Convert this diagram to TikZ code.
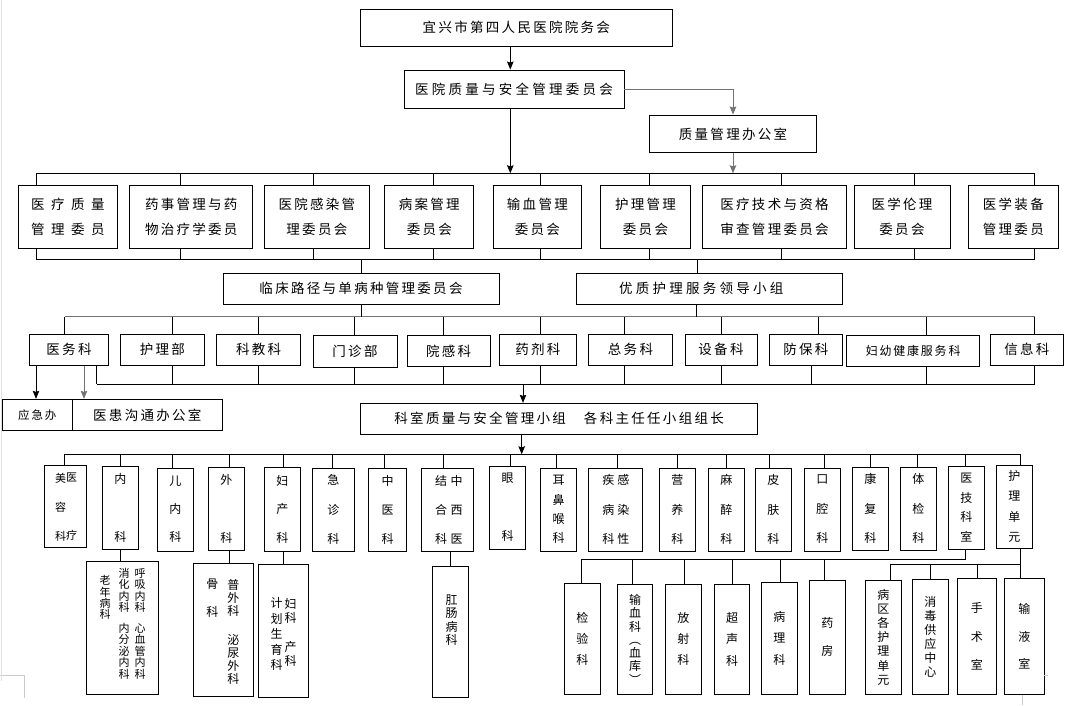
\documentclass[tikz,border=0pt]{standalone}
\usepackage{fontspec}
\usetikzlibrary{arrows.meta}
\newfontfamily\cjk[LetterSpace=17]{Noto Sans CJK SC}
\newfontfamily\cjkv{Noto Sans CJK SC}
\definecolor{gris}{rgb}{0.45,0.45,0.45}
\definecolor{grispale}{rgb}{0.8,0.8,0.8}

\begin{document}
\begin{tikzpicture}[x=1pt, y=-1pt, line width=0.9pt, >={Stealth[length=8pt,width=6.5pt,inset=1pt]}]
  \tikzstyle{box}=[draw, inner sep=0pt, align=center, font=\cjk\fontsize{13.5}{25}\selectfont]
  \tikzstyle{vbox}=[draw, inner sep=0pt, align=center]
  \tikzset{wh/.style 2 args={minimum width=#1pt, minimum height=#2pt},
           vt/.style={inner sep=0pt, align=center, font=\cjkv\fontsize{12}{#1}\selectfont},
           vts/.style={inner sep=0pt, align=center, font=\cjkv\fontsize{11}{#1}\selectfont}}

  \useasboundingbox (0,0) rectangle (1068,705);

  % direction
  \node[box, wh={311.3}{36.7}] (ywh) at (516.35,27.65) {宜兴市第四人民医院院务会};
  \node[box, wh={220}{38.3}] (zaw) at (514,89.15) {\addfontfeature{LetterSpace=24}医院质量与安全管理委员会};
  \node[box, wh={167.4}{37.7}] (zgb) at (733,133.85) {质量管理办公室};

  % comites
  \node[box, wh={99.3}{63.3}, font=\cjk\fontsize{13.5}{25}\selectfont\addfontfeature{LetterSpace=48}] (ylzl) at (67.95,216.65) {医疗质量\\管理委员};
  \node[box, wh={123.1}{63.3}] (ysgl) at (191.25,216.65) {药事管理与药\\物治疗学委员};
  \node[box, wh={104.2}{63.3}] (ygwh) at (316.9,216.65) {医院感染管\\理委员会};
  \node[box, wh={89}{63.3}] (bawh) at (429.3,216.65) {病案管理\\委员会};
  \node[box, wh={88.7}{63.3}] (sxwh) at (537.35,216.65) {输血管理\\委员会};
  \node[box, wh={89.6}{63.3}] (hlwh) at (645.5,216.65) {护理管理\\委员会};
  \node[box, wh={144.2}{63.3}] (jswh) at (774.5,216.65) {医疗技术与资格\\审查管理委员会};
  \node[box, wh={96}{63.3}] (llwh) at (902,216.65) {医学伦理\\委员会};
  \node[box, wh={90.6}{63.3}] (zbwh) at (1013.3,216.65) {医学装备\\管理委员};

  \node[box, wh={276}{31}] (ljwh) at (361,288.8) {临床路径与单病种管理委员会};
  \node[box, wh={265.4}{31}] (yzhl) at (709.3,288.8) {\addfontfeature{LetterSpace=24}优质护理服务领导小组\hspace*{16pt}};

  % services
  \node[box, wh={79.4}{31}] (ywk) at (69,349.8) {医务科};
  \node[box, wh={84}{31}] (hlb) at (162.3,349.8) {护理部};
  \node[box, wh={84.1}{31}] (kjk) at (258.65,349.8) {科教科};
  \node[box, wh={84}{32}] (mzb) at (355,351.3) {门诊部};
  \node[box, wh={83.3}{31.4}] (ygk) at (448.65,351) {院感科};
  \node[box, wh={77.6}{31}] (yjk) at (537.8,349.8) {药剂科};
  \node[box, wh={83.8}{31}] (zwk) at (630.5,349.8) {总务科};
  \node[box, wh={72}{31}] (sbk) at (721,349.8) {设备科};
  \node[box, wh={72.3}{31}] (fbk) at (805.85,349.8) {防保科};
  \node[box, wh={133.1}{31.4}] (fyk) at (913.15,351) {\fontsize{12}{14}\selectfont\addfontfeature{LetterSpace=15}妇幼健康服务科};
  \node[box, wh={72.3}{31}] (xxk) at (1026.85,349.8) {信息科};

  \node[box, wh={70}{31.4}] (yjb) at (37.3,415) {\fontsize{11.5}{14}\selectfont 应急办};
  \node[box, wh={150}{31.4}] (ygt) at (147.3,415) {医患沟通办公室};

  \node[box, wh={396.9}{31}] (ksxz) at (559.15,418.8) {科室质量与安全管理小组　各科主任任小组组长};

  % departements
  \node[vbox, wh={42.4}{82.3}] (mrk) at (65.5,506.15) {};
  \node[vts=29] (mrk1) at (60.7,507) {美\\容\\科};
  \node[vts=58] (mrk2) at (71.7,507) {医\\疗};
  \node[vbox, vt=58, wh={36}{83.3}] (nk) at (120.3,507.65) {内\\科};
  \node[vbox, vt=28, wh={36}{83}] (enk) at (175.3,509.5) {儿\\内\\科};
  \node[vbox, vt=58, wh={36}{82.7}] (wk) at (226.3,508.65) {外\\科};
  \node[vbox, vt=28.5, wh={36}{83.3}] (fck) at (282.3,509.35) {妇\\产\\科};
  \node[vbox, vt=29.5, wh={42}{82.7}] (jzk) at (333.3,509.65) {急\\诊\\科};
  \node[vbox, vt=29, wh={38.4}{83}] (zyk) at (387.5,509.5) {中\\医\\科};
  \node[vbox, wh={52}{83}] (zxy) at (447.3,509.5) {};
  \node[vt=29] (zxy1) at (456.7,509.8) {中\\西\\医};
  \node[vt=29] (zxy2) at (441,509.8) {结\\合\\科};
  \node[vbox, vt=58, wh={36.4}{83.3}] (yk) at (507.5,507.65) {眼\\科};
  \node[vbox, vt=19.3, wh={36.4}{83}] (ebh) at (558.5,509.5) {耳\\鼻\\喉\\科};
  \node[vbox, wh={54}{83}] (grk) at (615.3,509.5) {};
  \node[vt=29.5] (grk1) at (623.3,509.5) {感\\染\\性};
  \node[vt=29.5] (grk2) at (608.3,509.5) {疾\\病\\科};
  \node[vbox, vt=29.5, wh={36}{83}] (yyk) at (677.3,509.5) {营\\养\\科};
  \node[vbox, vt=29.5, wh={36}{83}] (mzk) at (726.3,509.5) {麻\\醉\\科};
  \node[vbox, vt=29.5, wh={36}{83}] (pfk) at (773.3,509.5) {皮\\肤\\科};
  \node[vbox, vt=29.5, wh={36}{83}] (kqk) at (822.3,509.5) {口\\腔\\科};
  \node[vbox, vt=29.5, wh={36}{82.7}] (kfk) at (870.3,508.65) {康\\复\\科};
  \node[vbox, vt=29.5, wh={36}{82.7}] (tjk) at (918.3,508.65) {体\\检\\科};
  \node[vbox, vt=19.7, wh={36}{83}] (yjks) at (966.3,507.5) {医\\技\\科\\室};
  \node[vbox, vt=20.5, wh={36}{83.3}] (hldy) at (1014.3,506.65) {护\\理\\单\\元};

  % sous-unites
  \node[vbox, wh={72}{133.3}] (nks) at (122.3,627.65) {};
  \node[vts=11.5] (nks1) at (140,623.7) {呼\\吸\\内\\科\\[9pt]心\\血\\管\\内\\科};
  \node[vts=11.5] (nks2) at (124,623.7) {消\\化\\内\\科\\[9pt]内\\分\\泌\\内\\科};
  \node[vts=11.3] (nks3) at (105,597.5) {老\\年\\病\\科};
  \node[vbox, wh={60}{133.4}] (wks) at (223.3,630) {};
  \node[vt=13] (wks1) at (233.3,632) {普\\外\\科\\[16.5pt]泌\\尿\\外\\科};
  \node[vt=27.4] (wks2) at (212.3,598) {骨\\科};
  \node[vbox, wh={49.3}{133}] (fcks) at (283.35,630.8) {};
  \node[vt=14.3] (fcks1) at (290.7,632.4) {妇\\科\\[14pt]产\\科};
  \node[vt=15.5] (fcks2) at (276.7,634) {计\\划\\生\\育\\科};
  \node[vbox, wh={36}{131.3}] (gck) at (450.3,631.65) {};
  \node[vt=13.3] (gck1) at (451.7,620) {肛\\肠\\病\\科};

  \node[vbox, vt=21, wh={36}{111}] (jyk) at (582.3,638.8) {检\\验\\科};
  \node[vbox, vt=13.3, wh={35.4}{110}] (sxk) at (635,639.3) {输\\血\\科\\︵\\血\\库\\︶};
  \node[vbox, vt=21, wh={36}{110}] (fsk) at (683.3,639.3) {放\\射\\科};
  \node[vbox, vt=21.3, wh={35.4}{110}] (csk) at (732,639.3) {超\\声\\科};
  \node[vbox, vt=21.5, wh={36}{112}] (blk) at (779.3,638.3) {病\\理\\科};
  \node[vbox, vt=27.7, wh={36}{114.3}] (yf) at (827.3,637.15) {药\\房};
  \node[vbox, vt=14.2, wh={36}{114.3}] (bqhl) at (883.3,637.15) {病\\区\\各\\护\\理\\单\\元};
  \node[vbox, vt=14, wh={36}{115}] (xdgy) at (930.3,636.8) {消\\毒\\供\\应\\中\\心};
  \node[vbox, vt=28.3, wh={39}{116}] (sss) at (976.8,636.3) {手\\术\\室};
  \node[vbox, vt=27.5, wh={40}{116}] (sys) at (1024.3,636.3) {输\\液\\室};

  % bus
  \coordinate (b2t) at (36.2,173.3);
  \coordinate (b2b) at (36.2,259.3);
  \coordinate (b3t) at (64.8,316.7);
  \coordinate (b3b) at (96.6,384);
  \coordinate (b4) at (64.3,454.3);

  % liaisons du haut
  \draw[->] (ywh.south -| 510.3,0) -- (zaw.north -| 510.3,0);
  \draw[->, gris] (zaw.east) -| (zgb.north);
  \draw[->] (zaw.south -| 510.3,0) -- (b2t -| 510.3,0);
  \draw[->, gris] (zgb.south) -- (zgb.south |- b2t);

  \draw (b2t) -- (b2t -| 1034.5,0);
  \draw (b2b) -- (b2b -| 1034.5,0);
  \draw
    (ylzl.north -| 36.2,0) -- (b2t -| 36.2,0)     (ylzl.south -| 36.2,0) -- (b2b -| 36.2,0)
    (ysgl.north -| 180.7,0) -- (b2t -| 180.7,0)   (ysgl.south -| 180.7,0) -- (b2b -| 180.7,0)
    (ygwh.north -| 313,0) -- (b2t -| 313,0)       (ygwh.south -| 313,0) -- (b2b -| 313,0)
    (bawh.north -| 433.8,0) -- (b2t -| 433.8,0)   (bawh.south -| 433.8,0) -- (b2b -| 433.8,0)
    (sxwh.north -| 540.3,0) -- (b2t -| 540.3,0)   (sxwh.south -| 540.3,0) -- (b2b -| 540.3,0)
    (hlwh.north -| 649,0) -- (b2t -| 649,0)       (hlwh.south -| 649,0) -- (b2b -| 649,0)
    (jswh.north -| 781.7,0) -- (b2t -| 781.7,0)   (jswh.south -| 781.7,0) -- (b2b -| 781.7,0)
    (llwh.north -| 914.5,0) -- (b2t -| 914.5,0)   (llwh.south -| 914.5,0) -- (b2b -| 914.5,0)
    (zbwh.north -| 1034.5,0) -- (b2t -| 1034.5,0) (zbwh.south -| 1034.5,0) -- (b2b -| 1034.5,0)
    (b2b -| ljwh.north) -- (ljwh.north)
    (b2b -| 697,0) -- (yzhl.north -| 697,0)
    ;

  % services
  \draw[gris, line width=1.5pt] (b3t) -- (b3t -| 1034.8,0);
  \draw (b3b) -- (b3b -| 1034.8,0);
  \draw
    (ljwh.south) -- (b3t -| ljwh.south)
    (yzhl.south -| 696.6,0) -- (b3t -| 696.6,0)
    (ywk.north -| 64.8,0) -- (b3t -| 64.8,0)      (ywk.south -| 96.6,0) -- (b3b -| 96.6,0)
    (hlb.north -| 172.4,0) -- (b3t -| 172.4,0)    (hlb.south -| 172.4,0) -- (b3b -| 172.4,0)
    (kjk.north -| 258.6,0) -- (b3t -| 258.6,0)    (kjk.south -| 258.6,0) -- (b3b -| 258.6,0)
    (mzb.north -| 354.8,0) -- (b3t -| 354.8,0)    (mzb.south -| 354.8,0) -- (b3b -| 354.8,0)
    (ygk.north -| 443,0) -- (b3t -| 443,0)        (ygk.south -| 443.8,0) -- (b3b -| 443.8,0)
    (yjk.north -| 540.3,0) -- (b3t -| 540.3,0)    (yjk.south -| 540.3,0) -- (b3b -| 540.3,0)
    (zwk.north -| 624.8,0) -- (b3t -| 624.8,0)    (zwk.south -| 624.8,0) -- (b3b -| 624.8,0)
    (sbk.north -| 721.4,0) -- (b3t -| 721.4,0)    (sbk.south -| 721.4,0) -- (b3b -| 721.4,0)
    (fbk.north -| 818,0) -- (b3t -| 818,0)        (fbk.south -| 811,0) -- (b3b -| 811,0)
    (fyk.north -| 926.6,0) -- (b3t -| 926.6,0)    (fyk.south -| 926.6,0) -- (b3b -| 926.6,0)
    (xxk.north -| 1034.8,0) -- (b3t -| 1034.8,0)  (xxk.south -| 1034.8,0) -- (b3b -| 1034.8,0)
    ;
  \draw[->] (ywk.south -| 36,0) -- (yjb.north -| 36,0);
  \draw[->, gris] (ywk.south -| 84,0) -- (ygt.north -| 84,0);
  \draw[->] (b3b -| 523,0) -- (ksxz.north -| 523,0);
  \draw[->] (ksxz.south -| 521.7,0) -- (b4 -| 521.7,0);

  % departements
  \draw (b4) -- (b4 -| 1020.3,0);
  \draw
    (b4 -| 64.3,0) -- (mrk.north -| 64.3,0)
    (b4 -| 120.3,0) -- (nk.north -| 120.3,0)
    (b4 -| 172.3,0) -- (enk.north -| 172.3,0)
    (b4 -| 229.3,0) -- (wk.north -| 229.3,0)
    (b4 -| 283.3,0) -- (fck.north -| 283.3,0)
    (b4 -| 332.3,0) -- (jzk.north -| 332.3,0)
    (b4 -| 384.3,0) -- (zyk.north -| 384.3,0)
    (b4 -| 443.3,0) -- (zxy.north -| 443.3,0)
    (b4 -| 510.7,0) -- (yk.north -| 510.7,0)
    (b4 -| 556.7,0) -- (ebh.north -| 556.7,0)
    (b4 -| 617.3,0) -- (grk.north -| 617.3,0)
    (b4 -| 677.3,0) -- (yyk.north -| 677.3,0)
    (b4 -| 726.7,0) -- (mzk.north -| 726.7,0)
    (b4 -| 769.3,0) -- (pfk.north -| 769.3,0)
    (b4 -| 824.3,0) -- (kqk.north -| 824.3,0)
    (b4 -| 870.7,0) -- (kfk.north -| 870.7,0)
    (b4 -| 917.3,0) -- (tjk.north -| 917.3,0)
    (b4 -| 965.7,0) -- (yjks.north -| 965.7,0)
    (b4 -| 1020.3,0) -- (hldy.north -| 1020.3,0)
    ;

  % sous-unites
  \draw
    (nk.south -| 120.3,0) -- (nks.north -| 120.3,0)
    (wk.south -| 229.3,0) -- (wks.north -| 229.3,0)
    (fck.south -| 283.3,0) -- (fcks.north -| 283.3,0)
    (zxy.south -| 450.7,0) -- (gck.north -| 450.7,0)
    (yjks.south -| 965.7,0) -- (965.7,559.3) -| (jyk.north -| 581,0)
    (sxk.north -| 632.3,0) -- (632.3,559.3)
    (fsk.north -| 684.3,0) -- (684.3,559.3)
    (csk.north -| 732.3,0) -- (732.3,559.3)
    (blk.north -| 780.3,0) -- (780.3,559.3)
    (yf.north -| 824.3,0) -- (824.3,559.3)
    (hldy.south -| 1020.3,0) -- (sys.north -| 1020.3,0)
    (1020.3,564.3) -| (bqhl.north -| 890.3,0)
    (xdgy.north -| 930,0) -- (930,564.3)
    (sss.north -| 977.3,0) -- (977.3,564.3)
    ;

  % reperes de page
  \draw[grispale, line width=0.8pt] (0,675) -- (24.3,675) -- (24.3,698);
  \draw[grispale!60, line width=0.6pt] (1,0) -- (1,681);
  \draw[grispale, line width=0.6pt] (1044,675) -- (1047.5,675) (1022.3,695) -- (1022.3,705);

\end{tikzpicture}
\end{document}
